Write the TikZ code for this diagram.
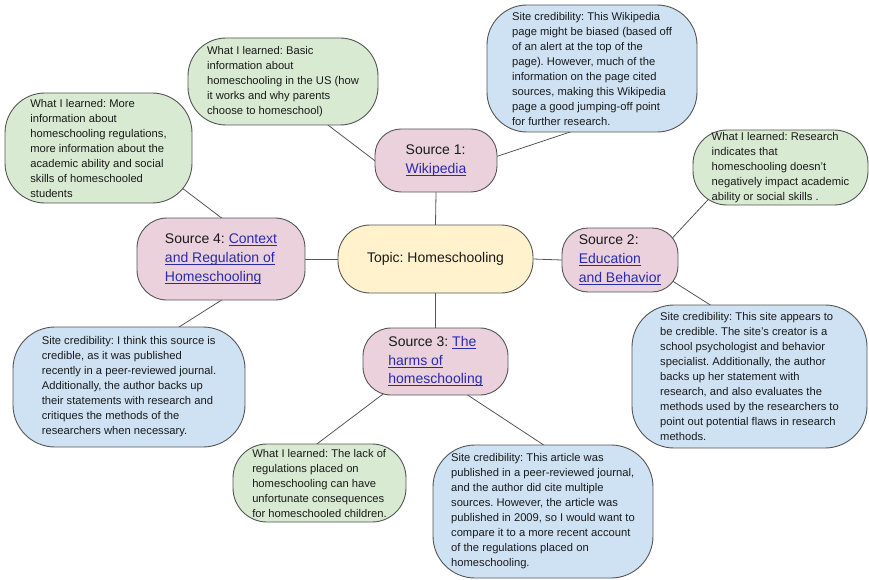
\documentclass[tikz,border=0pt]{standalone}
\usepackage{fontspec}
\setmainfont{Liberation Sans}
\usetikzlibrary{backgrounds}
\frenchspacing

\definecolor{learnedgreen}{HTML}{D9EAD3}
\definecolor{creditblue}{HTML}{CFE2F3}
\definecolor{sourcepink}{HTML}{EAD1DC}
\definecolor{topicyellow}{HTML}{FFF2CC}
\definecolor{edgegray}{HTML}{555555}
\definecolor{linkblue}{HTML}{2B2BAA}
\definecolor{inkblack}{HTML}{1A1A1A}

% underlined link text
\newcommand{\srclink}[1]{{\color{linkblue}\setbox0\hbox{#1}\rlap{\rule[-2.4pt]{\wd0}{0.9pt}}\box0}}

\tikzset{
  bubble/.style={draw=edgegray, line width=0.9pt, align=left, inner sep=0pt, text=inkblack},
  boxsize/.style n args={3}{minimum width=#1pt, minimum height=#2pt, rounded corners=#3pt},
  learned/.style={bubble, fill=learnedgreen, font=\fontsize{11.2}{15}\selectfont},
  credit/.style={bubble, fill=creditblue, font=\fontsize{11.2}{15}\selectfont},
  source/.style={bubble, fill=sourcepink, font=\fontsize{14}{18.7}\selectfont},
  topic/.style={bubble, fill=topicyellow, font=\fontsize{14}{18.7}\selectfont},
  spoke/.style={draw=edgegray, line width=0.8pt, shorten <=-14pt, shorten >=-14pt}
}

\begin{document}
\begin{tikzpicture}[x=1pt,y=-1pt]
	\useasboundingbox (0,0) rectangle (869,580);
	% centre and sources
	\node (T)  at (435.5,259)   [topic,  boxsize={195}{68}{32}]  {Topic: Homeschooling};
	\node (S1) at (436,160.5)   [source, boxsize={122}{63}{26}]  {Source 1:\\\srclink{Wikipedia}};
	\node (S2) at (620,260)     [source, boxsize={116}{64}{26}]  {Source 2:\\\srclink{Education}\\\srclink{and Behavior}};
	\node (S3) at (435.5,361.5) [source, boxsize={145}{67}{28}]  {Source 3: \srclink{The}\\\srclink{harms of}\\\srclink{homeschooling}};
	\node (S4) at (221,259)     [source, boxsize={168}{82}{30}]  {Source 4: \srclink{Context}\\\srclink{and Regulation of}\\\srclink{Homeschooling}};
	% what I learned
	\node (L1) at (283,81.5)    [learned, boxsize={190}{87}{38}] {What I learned: Basic\\information about\\homeschooling in the US (how\\it works and why parents\\choose to homeschool)};
	\node (L2) at (780.5,167.5) [learned, boxsize={175}{75}{34}] {What I learned: Research\\indicates that\\homeschooling doesn’t\\negatively impact academic\\ability or social skills .};
	\node (L3) at (319.5,483)   [learned, boxsize={173}{78}{34}] {What I learned: The lack of\\regulations placed on\\homeschooling can have\\unfortunate consequences\\for homeschooled children.};
	\node (L4) at (98.5,148)    [learned, boxsize={187}{110}{40}] {What I learned: More\\information about\\homeschooling regulations,\\more information about the\\academic ability and social\\skills of homeschooled\\students};
	% site credibility
	\node (C1) at (592,68.5)    [credit, boxsize={210}{127}{40}] {Site credibility: This Wikipedia\\page might be biased (based off\\of an alert at the top of the\\page). However, much of the\\information on the page cited\\sources, making this Wikipedia\\page a good jumping-off point\\for further research.};
	\node (C2) at (749.5,376.5) [credit, boxsize={235}{143}{42}] {Site credibility: This site appears to\\be credible. The site’s creator is a\\school psychologist and behavior\\specialist. Additionally, the author\\backs up her statement with\\research, and also evaluates the\\methods used by the researchers to\\point out potential flaws in research\\methods.};
	\node (C3) at (543,511.5)   [credit, boxsize={220}{133}{42}] {Site credibility: This article was\\published in a peer-reviewed journal,\\and the author did cite multiple\\sources. However, the article was\\published in 2009, so I would want to\\compare it to a more recent account\\of the regulations placed on\\homeschooling.};
	\node (C4) at (129,387)     [credit, boxsize={232}{120}{42}] {Site credibility: I think this source is\\credible, as it was published\\recently in a peer-reviewed journal.\\Additionally, the author backs up\\their statements with research and\\critiques the methods of the\\researchers when necessary.};
	% connectors
	\begin{scope}[on background layer]
		\draw[spoke] (T.north) -- (S1.south);
		\draw[spoke] (T.east) -- (S2.west);
		\draw[spoke] (T.south) -- (S3.north);
		\draw[spoke] (T.west) -- (S4.east);
		\draw[spoke] (L1.-44) -- (S1.west);
		\draw[spoke] (C1.-110) -- (S1.4);
		\draw[spoke] (L2.-154) -- (S2.26);
		\draw[spoke] (S2.-23) -- (C2.119);
		\draw[spoke] (S3.-148) -- (L3.93);
		\draw[spoke] (S3.-46) -- (C3.north);
		\draw[spoke] (L4.-27) -- (S4.north);
		\draw[spoke] (S4.south) -- (C4.50);
	\end{scope}
\end{tikzpicture}
\end{document}
